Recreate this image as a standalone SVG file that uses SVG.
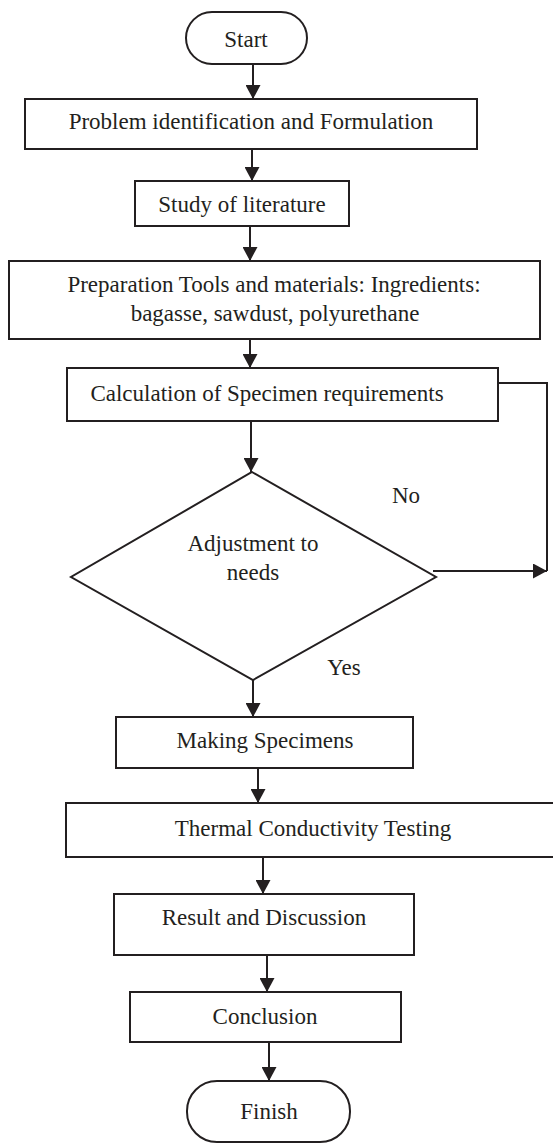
<svg xmlns="http://www.w3.org/2000/svg" width="553" height="1144" viewBox="0 0 553 1144">
<style>
.n{fill:#fff;stroke:#231f20;stroke-width:2}
.c{fill:none;stroke:#231f20;stroke-width:2}
text{font-family:"Liberation Serif","DejaVu Serif",serif;font-size:23px;fill:#231f20;text-anchor:middle}
</style>
<defs>
<marker id="ah" viewBox="0 0 14 15" refX="14" refY="7.5" markerWidth="14" markerHeight="15" markerUnits="userSpaceOnUse" orient="auto">
<path d="M0,0 L14,7.5 L0,15 z" fill="#231f20"/>
</marker>
</defs>
<rect width="553" height="1144" fill="#fff"/>
<g id="connectors">
<path class="c" d="M253,64 V99" marker-end="url(#ah)"/>
<path class="c" d="M252,149 V181" marker-end="url(#ah)"/>
<path class="c" d="M250,226 V261" marker-end="url(#ah)"/>
<path class="c" d="M250,339 V368" marker-end="url(#ah)"/>
<path class="c" d="M251,421 V472" marker-end="url(#ah)"/>
<path class="c" d="M498,383 H547 V571"/>
<path class="c" d="M433,571 H547" marker-end="url(#ah)"/>
<path class="c" d="M253,680 V717" marker-end="url(#ah)"/>
<path class="c" d="M258,768 V803" marker-end="url(#ah)"/>
<path class="c" d="M263,857 V894" marker-end="url(#ah)"/>
<path class="c" d="M267,955 V992" marker-end="url(#ah)"/>
<path class="c" d="M269,1042 V1081" marker-end="url(#ah)"/>
<text x="406" y="503">No</text>
<text x="344" y="675">Yes</text>
</g>
<g id="start">
<rect class="n" x="186" y="12" width="121" height="52" rx="26"/>
<text x="246" y="47">Start</text>
</g>
<g id="problem">
<rect class="n" x="25" y="99" width="452" height="50"/>
<text x="251" y="129">Problem identification and Formulation</text>
</g>
<g id="study">
<rect class="n" x="135" y="181" width="214" height="45"/>
<text x="242" y="212">Study of literature</text>
</g>
<g id="preparation">
<rect class="n" x="9" y="261" width="531" height="78"/>
<text x="274" y="292">Preparation Tools and materials: Ingredients:</text>
<text x="275" y="321">bagasse, sawdust, polyurethane</text>
</g>
<g id="calculation">
<rect class="n" x="67" y="368" width="431" height="53"/>
<text x="267" y="401">Calculation of Specimen requirements</text>
</g>
<g id="decision">
<polygon class="n" points="252,472 436,577 253,680 71,577"/>
<text x="253" y="551">Adjustment to</text>
<text x="253" y="580">needs</text>
</g>
<g id="making">
<rect class="n" x="116" y="717" width="297" height="51"/>
<text x="265" y="748">Making Specimens</text>
</g>
<g id="thermal">
<rect class="n" x="66" y="803" width="500" height="54"/>
<text x="313" y="836">Thermal Conductivity Testing</text>
</g>
<g id="result">
<rect class="n" x="114" y="894" width="300" height="61"/>
<text x="264" y="925">Result and Discussion</text>
</g>
<g id="conclusion">
<rect class="n" x="130" y="992" width="271" height="50"/>
<text x="265" y="1024">Conclusion</text>
</g>
<g id="finish">
<rect class="n" x="187" y="1081" width="163" height="61" rx="30"/>
<text x="269" y="1119">Finish</text>
</g>
</svg>
